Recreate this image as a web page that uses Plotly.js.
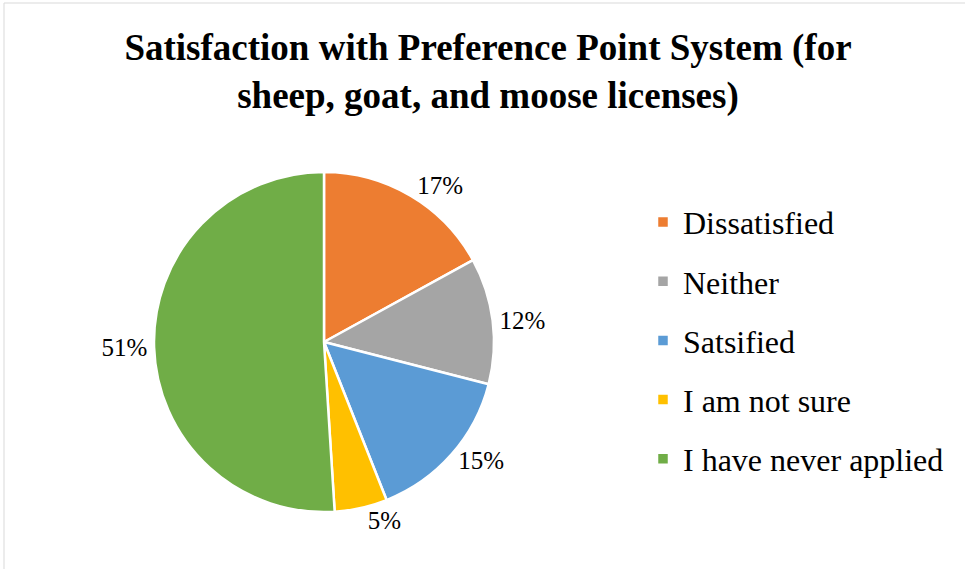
<!DOCTYPE html>
<html>
<head>
<meta charset="utf-8">
<script src="https://cdn.plot.ly/plotly-3.0.1.min.js"></script>
<style>html,body{margin:0;padding:0;background:#fff;}#chart{width:965px;height:569px;}</style>
</head>
<body>
<div id="chart"></div>
<script>
const categories = ["Dissatisfied", "Neither", "Satsified", "I am not sure", "I have never applied"];
const values = [17, 12, 15, 5, 51];
const colors = ["#ED7D31", "#A5A5A5", "#5B9BD5", "#FFC000", "#70AD47"];
const titleText = "Satisfaction with Preference Point System (for<br>sheep, goat, and moose licenses)";

const W = 965, H = 569;
const cx = 324, cy = 342, r = 170;
const serif = "Liberation Serif, Times New Roman, serif";

const trace = {
  type: "pie",
  labels: categories,
  values: values,
  marker: {colors: colors, line: {color: "#ffffff", width: 2.5}},
  sort: false,
  direction: "clockwise",
  rotation: 0,
  textinfo: "percent",
  texttemplate: "%{percent:.0%}",
  textposition: "outside",
  outsidetextfont: {family: serif, size: 25, color: "#000"},
  hoverinfo: "label+percent",
  domain: {
    x: [(cx - r) / W, (cx + r) / W],
    y: [(H - cy - r) / H, (H - cy + r) / H]
  }
};

const layout = {
  width: W, height: H,
  margin: {l: 0, r: 0, t: 0, b: 0},
  paper_bgcolor: "#ffffff",
  title: {
    text: titleText,
    font: {family: serif, size: 37, color: "#000", weight: "bold"},
    x: 488 / W, xanchor: "center",
    y: 1 - 60 / H, yanchor: "middle"
  },
  showlegend: true,
  legend: {
    x: 643 / W, xanchor: "left",
    y: 1 - 195 / H, yanchor: "top",
    font: {family: serif, size: 32, color: "#000"},
    itemwidth: 30,
    bgcolor: "rgba(0,0,0,0)"
  },
  shapes: [
    {type: "line", xref: "paper", yref: "paper", x0: 4 / W, x1: 4 / W, y0: 0, y1: 1 - 3 / H, line: {color: "#D9D9D9", width: 1}},
    {type: "line", xref: "paper", yref: "paper", x0: 4 / W, x1: 1, y0: 1 - 3 / H, y1: 1 - 3 / H, line: {color: "#D9D9D9", width: 1}}
  ]
};

// legend row centres in the reference (page y) and spacing
const legendFirstRowY = 222;
const legendRowGap = 59.2;

Plotly.newPlot("chart", [trace], layout, {displayModeBar: false, staticPlot: true}).then(function () {
  const leg = document.querySelector("g.legend");
  if (!leg) return;
  const m = /translate\(\s*([-\d.]+)[ ,]+([-\d.]+)\s*\)/.exec(leg.getAttribute("transform") || "");
  const legTop = m ? parseFloat(m[2]) : 0;
  const sb = leg.querySelector(".scrollbox");
  if (sb) sb.removeAttribute("clip-path");
  leg.querySelectorAll(".traces").forEach(function (t, i) {
    const tm = /translate\(\s*([-\d.]+)[ ,]+([-\d.]+)\s*\)/.exec(t.getAttribute("transform") || "");
    const tx = tm ? parseFloat(tm[1]) : 0;
    t.setAttribute("transform", "translate(" + tx + "," + (legendFirstRowY + i * legendRowGap - legTop) + ")");
  });
});
</script>
</body>
</html>
